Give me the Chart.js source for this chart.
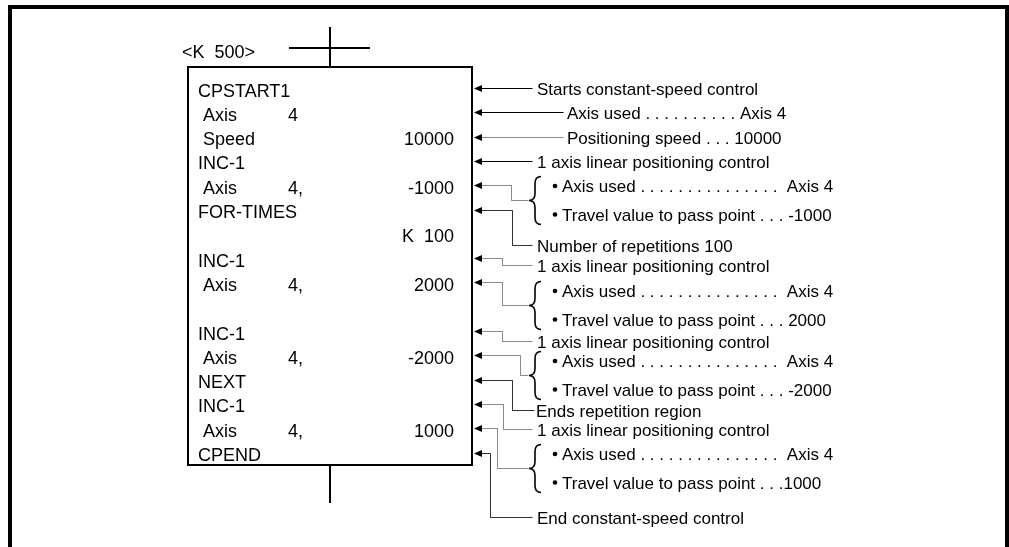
<!DOCTYPE html>
<html>
<head>
<meta charset="utf-8">
<script src="https://cdn.jsdelivr.net/npm/chart.js@4.4.0/dist/chart.umd.min.js"></script>
<style>
  html, body { margin: 0; padding: 0; background: #fff; }
  #wrap { width: 1009px; height: 547px; position: relative; }
</style>
</head>
<body>
<div id="wrap"><canvas id="diagram"></canvas></div>
<script>
// program lines shown inside the box
const programLabels = ['CPSTART1', ' Axis', ' Speed', 'INC-1', ' Axis', 'FOR-TIMES', '', 'INC-1', ' Axis', '', 'INC-1', ' Axis', 'NEXT', 'INC-1', ' Axis', 'CPEND'];
const programAxis   = ['', '4', '', '', '4,', '', '', '', '4,', '', '', '4,', '', '', '4,', ''];
const programValues = ['', '', '10000', '', '-1000', '', 'K  100', '', '2000', '', '', '-2000', '', '', '1000', ''];
const stepLabel = '<K  500>';

// which program rows carry an arrow, and the comment for each
const noteRows = [0, 1, 2, 3, 4, 5, 7, 8, 10, 11, 12, 13, 14, 15];
const noteTexts = [
    'Starts constant-speed control',
    'Axis used . . . . . . . . . . Axis 4',
    'Positioning speed . . . 10000',
    '1 axis linear positioning control',
    ['Axis used . . . . . . . . . . . . . . .  Axis 4', 'Travel value to pass point . . . -1000'],
    'Number of repetitions 100',
    '1 axis linear positioning control',
    ['Axis used . . . . . . . . . . . . . . .  Axis 4', 'Travel value to pass point . . . 2000'],
    '1 axis linear positioning control',
    ['Axis used . . . . . . . . . . . . . . .  Axis 4', 'Travel value to pass point . . . -2000'],
    'Ends repetition region',
    '1 axis linear positioning control',
    ['Axis used . . . . . . . . . . . . . . .  Axis 4', 'Travel value to pass point . . .1000'],
    'End constant-speed control'
];

// layout (pixels in the 1009 x 547 frame)
const ROW_TOP = 88, ROW_STEP = 24.3;
const BOX = { l: 188, r: 472, t: 67, b: 465 };
const GRAY = '#8a8a8a', DARK = '#333', BLACK = '#000';
// [elbow x, comment y, line end x, text x, colour]
const noteLayout = [
    [null, null, 532, 537, BLACK],
    [null, null, 563, 567, BLACK],
    [null, null, 563, 567, GRAY],
    [null, null, 532, 537, BLACK],
    [511.5, 200.5, 528, 562, GRAY],
    [512.5, 245.5, 532, 537, DARK],
    [502.5, 265.5, 532, 537, GRAY],
    [502.5, 305.5, 528, 562, GRAY],
    [502.5, 341.5, 532, 537, GRAY],
    [520.5, 375.5, 528, 562, GRAY],
    [512.5, 410.5, 534, 536, DARK],
    [503.5, 429.5, 532, 537, GRAY],
    [497.5, 468.5, 528, 562, GRAY],
    [490.5, 517.5, 532, 537, DARK]
];

function rowY(i) { return ROW_TOP + i * ROW_STEP; }

function seg(points, color, width) {
    return {
        data: points.map(p => ({ x: p[0], y: p[1] })),
        showLine: true,
        borderColor: color,
        borderWidth: width,
        pointRadius: 0,
        fill: false,
        tension: 0,
        borderCapStyle: 'square',
        borderJoinStyle: 'miter'
    };
}

const datasets = [];
// outer frame (open at the bottom)
datasets.push(seg([[10, 547], [10, 7], [1007, 7], [1007, 547]], BLACK, 4));
// program box
datasets.push(seg([[BOX.l, BOX.t], [BOX.r, BOX.t], [BOX.r, BOX.b], [BOX.l, BOX.b], [BOX.l, BOX.t]], BLACK, 2));
// ladder connections
datasets.push(seg([[330, 28], [330, BOX.t]], BLACK, 2));
datasets.push(seg([[290, 48], [369, 48]], BLACK, 2));
datasets.push(seg([[330, BOX.b], [330, 502]], BLACK, 2));
// leader lines from each arrow
noteRows.forEach((row, i) => {
    const [ex, ty, endX, , col] = noteLayout[i];
    const y = Math.round(rowY(row)) + 0.5;
    const pts = ex === null ? [[480, y], [endX, y]] : [[480, y], [ex, y], [ex, ty], [endX, ty]];
    datasets.push(seg(pts, col, 1));
});

const labelPlugin = {
    id: 'labels',
    afterDatasetsDraw(chart) {
        const ctx = chart.ctx;
        const xs = chart.scales.x, ys = chart.scales.y;
        const px = v => xs.getPixelForValue(v);
        const py = v => ys.getPixelForValue(v);
        ctx.save();
        ctx.fillStyle = BLACK;
        ctx.strokeStyle = BLACK;
        ctx.textBaseline = 'alphabetic';

        // box contents
        ctx.font = '18px "Liberation Sans", Arial, sans-serif';
        ctx.textAlign = 'left';
        ctx.fillText(stepLabel, px(182), py(58));
        programLabels.forEach((t, i) => {
            const y = py(rowY(i) + 8.5);
            if (t) { ctx.textAlign = 'left'; ctx.fillText(t, px(198), y); }
            if (programAxis[i]) { ctx.textAlign = 'left'; ctx.fillText(programAxis[i], px(288), y); }
            if (programValues[i]) { ctx.textAlign = 'right'; ctx.fillText(programValues[i], px(454), y); }
        });

        // arrowheads on the right edge of the box
        noteRows.forEach(row => {
            const y = Math.round(rowY(row)) + 0.5;
            ctx.beginPath();
            ctx.moveTo(px(BOX.r + 2), py(y));
            ctx.lineTo(px(BOX.r + 10), py(y - 3.5));
            ctx.lineTo(px(BOX.r + 10), py(y + 3.5));
            ctx.closePath();
            ctx.fill();
        });

        // comments
        ctx.font = '17px "Liberation Sans", Arial, sans-serif';
        ctx.textAlign = 'left';
        noteTexts.forEach((t, i) => {
            const [ex, ty, endX, tx] = noteLayout[i];
            const y = ty === null ? Math.round(rowY(noteRows[i])) + 0.5 : ty;
            if (Array.isArray(t)) {
                // brace with two bullet lines
                const x0 = endX + 1, w = 12, h = 24, r = 7;
                const xm = x0 + w / 2;
                ctx.lineWidth = 1.6;
                ctx.beginPath();
                ctx.moveTo(px(x0 + w), py(y - h));
                ctx.quadraticCurveTo(px(xm), py(y - h), px(xm), py(y - h + r));
                ctx.lineTo(px(xm), py(y - r));
                ctx.quadraticCurveTo(px(xm), py(y), px(x0), py(y));
                ctx.quadraticCurveTo(px(xm), py(y), px(xm), py(y + r));
                ctx.lineTo(px(xm), py(y + h - r));
                ctx.quadraticCurveTo(px(xm), py(y + h), px(x0 + w), py(y + h));
                ctx.stroke();
                [y - 14.5, y + 14].forEach((by, k) => {
                    ctx.beginPath();
                    ctx.arc(px(tx - 7), py(by), 2.3, 0, Math.PI * 2);
                    ctx.fill();
                    ctx.fillText(t[k], px(tx), py(by + 6));
                });
            } else {
                ctx.fillText(t, px(tx), py(y + 6));
            }
        });
        ctx.restore();
    }
};

try {
    new Chart(document.getElementById('diagram').getContext('2d'), {
        type: 'scatter',
        data: { datasets: datasets },
        options: {
            responsive: true,
            maintainAspectRatio: false,
            devicePixelRatio: 1,
            animation: false,
            events: [],
            layout: { padding: 0 },
            scales: {
                x: { type: 'linear', min: 0, max: 1009, display: false },
                y: { type: 'linear', min: 0, max: 547, reverse: true, display: false }
            },
            plugins: {
                legend: { display: false },
                tooltip: { enabled: false }
            }
        },
        plugins: [labelPlugin]
    });
} catch (error) {
    console.error('Chart initialization failed:', error);
}
</script>
</body>
</html>
